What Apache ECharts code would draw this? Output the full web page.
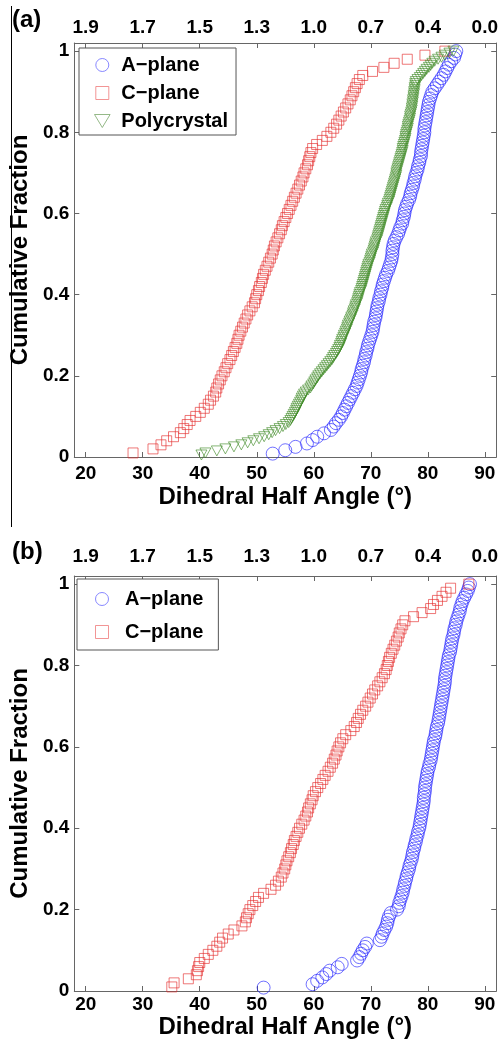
<!DOCTYPE html>
<html><head><meta charset="utf-8">
<script src="https://cdn.jsdelivr.net/npm/echarts@6/dist/echarts.min.js"></script>
<style>html,body{margin:0;padding:0;background:#fff}#c{width:501px;height:1042px}</style>
</head><body><div id="c"></div>
<script>
// ---- data ----
const xTicks = [20, 30, 40, 50, 60, 70, 80, 90];
const topLabels = ['1.9', '1.7', '1.5', '1.3', '1.0', '0.7', '0.4', '0.0'];
const yTicks = [0, 0.2, 0.4, 0.6, 0.8, 1];

// panel (a): sorted dihedral half angles (degrees)
const aPlaneA = [52.8,55.0,56.8,58.8,59.8,60.6,61.8,63.0,63.5,63.9,
64.4,64.8,65.1,65.4,65.7,66.0,66.3,66.6,66.9,67.2,
67.5,67.7,67.9,68.1,68.3,68.4,68.6,68.8,68.9,69.1,
69.2,69.4,69.5,69.7,69.9,70.1,70.3,70.4,70.5,70.6,
70.8,70.9,71.0,71.1,71.2,71.4,71.5,71.7,71.8,72.0,
72.1,72.3,72.5,72.7,73.0,73.2,73.4,73.6,73.7,73.8,
73.8,73.9,74.0,74.2,74.5,74.8,75.0,75.2,75.5,75.6,
75.8,75.9,76.0,76.2,76.4,76.7,76.9,77.0,77.2,77.4,
77.5,77.7,77.8,78.0,78.2,78.3,78.5,78.6,78.8,78.8,
78.9,79.0,79.1,79.2,79.3,79.4,79.4,79.5,79.6,79.7,
79.8,79.9,80.0,80.1,80.2,80.4,80.6,80.8,81.2,81.6,
82.0,82.4,82.8,83.1,83.4,83.7,84.1,84.6,84.8,85.0];

const cPlaneA = [28.3,31.8,33.2,34.2,35.4,36.6,37.2,37.8,38.3,39.3,
40.1,40.8,41.5,41.9,42.4,42.8,43.0,43.3,43.6,43.9,
44.3,44.6,44.9,45.3,45.6,45.9,46.2,46.5,46.7,46.9,
47.2,47.5,47.8,48.1,48.4,48.8,49.2,49.6,49.8,50.0,
50.3,50.5,50.8,51.0,51.2,51.5,51.8,52.1,52.4,52.7,
52.9,53.1,53.4,53.7,54.0,54.3,54.5,54.8,55.1,55.4,
55.7,56.0,56.3,56.6,56.9,57.2,57.5,57.8,58.1,58.3,
58.6,58.9,59.1,59.3,59.5,59.8,60.5,61.5,62.3,63.0,
63.5,64.0,64.4,64.8,65.2,65.6,66.0,66.4,66.7,67.0,
67.3,67.6,68.0,68.6,70.3,72.3,74.1,76.4,79.5,83.0];

const polyA = [40.3,41.0,43.0,44.5,46.0,47.3,48.4,49.4,50.4,51.3,
52.1,52.7,53.3,54.0,54.6,55.1,55.6,55.9,56.1,56.3,
56.5,56.7,56.9,57.0,57.2,57.4,57.6,57.8,57.9,58.1,
58.3,58.6,59.0,59.4,59.6,59.9,60.1,60.3,60.6,60.8,
61.1,61.4,61.7,62.0,62.3,62.6,62.9,63.2,63.4,63.6,
63.9,64.1,64.3,64.5,64.6,64.8,64.9,65.0,65.2,65.3,
65.5,65.6,65.8,65.9,66.0,66.2,66.3,66.5,66.6,66.8,
66.9,67.0,67.2,67.3,67.4,67.6,67.7,67.8,67.9,68.0,
68.1,68.3,68.4,68.5,68.6,68.7,68.8,68.9,69.0,69.1,
69.2,69.3,69.4,69.5,69.6,69.8,69.9,70.0,70.1,70.2,
70.4,70.5,70.6,70.7,70.8,70.9,71.1,71.2,71.3,71.4,
71.5,71.6,71.7,71.8,71.9,72.0,72.1,72.2,72.3,72.4,
72.5,72.6,72.8,72.9,73.0,73.2,73.3,73.4,73.5,73.6,
73.7,73.8,73.9,74.0,74.1,74.2,74.3,74.4,74.5,74.5,
74.6,74.7,74.8,74.9,75.0,75.1,75.2,75.3,75.4,75.5,
75.6,75.6,75.7,75.8,75.9,76.0,76.1,76.1,76.2,76.3,
76.4,76.5,76.5,76.6,76.7,76.8,76.9,76.9,77.0,77.1,
77.2,77.2,77.3,77.3,77.4,77.4,77.5,77.5,77.6,77.6,
77.7,77.7,77.8,77.8,77.9,78.2,78.6,78.9,79.2,79.5,
79.8,80.2,80.5,80.8,81.2,81.8,82.4,83.0,83.8,84.5];

// panel (b)
const aPlaneB = [51.2,59.8,60.6,61.5,62.2,62.8,64.2,64.9,67.6,68.0,
68.3,68.6,69.0,69.3,71.6,71.9,72.1,72.4,72.7,72.9,
73.0,73.2,73.5,74.6,74.9,75.0,75.2,75.4,75.6,75.7,
75.9,76.0,76.2,76.3,76.5,76.7,76.8,77.0,77.2,77.3,
77.4,77.6,77.7,77.9,78.0,78.2,78.3,78.5,78.6,78.7,
78.8,78.9,79.0,79.1,79.2,79.3,79.3,79.4,79.5,79.5,
79.6,79.7,79.8,79.9,80.0,80.2,80.3,80.5,80.6,80.7,
80.8,80.9,81.0,81.1,81.3,81.4,81.5,81.6,81.8,81.9,
82.0,82.1,82.2,82.3,82.4,82.5,82.6,82.7,82.8,82.9,
83.0,83.0,83.1,83.2,83.3,83.4,83.5,83.6,83.7,83.9,
84.0,84.1,84.2,84.3,84.5,84.6,84.7,84.9,85.0,85.2,
85.4,85.6,85.7,85.9,86.1,86.4,86.7,87.0,87.2,87.4];

const cPlaneB = [35.1,35.5,38.0,39.4,39.6,39.8,40.0,40.8,41.5,42.3,
43.0,43.5,44.0,45.0,46.0,47.4,48.0,48.2,48.5,48.8,
49.3,49.8,50.3,51.2,52.5,53.3,53.8,54.3,54.6,54.9,
55.1,55.3,55.6,55.9,56.1,56.4,56.6,56.9,57.2,57.5,
57.9,58.3,58.6,58.9,59.1,59.4,59.7,59.9,60.3,60.7,
61.2,61.6,62.0,62.5,62.9,63.3,63.6,63.9,64.1,64.4,
64.7,65.1,65.6,66.5,67.1,67.5,67.8,68.2,68.6,69.1,
69.5,69.9,70.3,70.7,71.2,71.6,72.0,72.4,72.7,72.9,
73.1,73.3,73.6,73.9,74.2,74.5,74.8,75.0,75.3,75.6,
76.0,77.5,79.0,80.5,81.0,81.7,82.5,83.2,84.0,87.2];

// ---- helpers ----
const FONT = '"Liberation Sans", Arial, Helvetica, sans-serif';
const AX = '#666';
function ecdf(angles) { const n = angles.length; return angles.map((a, i) => [a, (i + 1) / n]); }

function xAxisDef(grid, pos, labelMargin, withName, nameGap) {
  const ax = {
    type: 'value', gridIndex: grid, position: pos, min: 18, max: 92,
    axisLine: { show: true, onZero: false, lineStyle: { color: AX, width: 1 } },
    axisTick: { show: true, inside: true, length: 5, customValues: xTicks, lineStyle: { color: AX } },
    axisLabel: { show: true, customValues: xTicks, margin: labelMargin, color: '#000', fontWeight: 'bold', fontSize: 19, fontFamily: FONT },
    splitLine: { show: false }
  };
  if (pos === 'top') ax.axisLabel.formatter = v => topLabels[xTicks.indexOf(v)];
  if (withName) {
    ax.name = 'Dihedral Half Angle (°)';
    ax.nameLocation = 'middle';
    ax.nameGap = nameGap;
    ax.nameTextStyle = { color: '#000', fontWeight: 'bold', fontSize: 24, fontFamily: FONT };
  }
  return ax;
}
function yAxisDef(grid, pos) {
  const ax = {
    type: 'value', gridIndex: grid, position: pos, min: 0, max: 1.02,
    axisLine: { show: true, onZero: false, lineStyle: { color: AX, width: 1 } },
    axisTick: { show: true, inside: true, length: 5, customValues: yTicks, lineStyle: { color: AX } },
    axisLabel: { show: pos === 'left', customValues: yTicks, margin: 5, color: '#000', fontWeight: 'bold', fontSize: 19, fontFamily: FONT },
    splitLine: { show: false }
  };
  if (pos === 'left') {
    ax.name = 'Cumulative Fraction';
    ax.nameLocation = 'middle';
    ax.nameGap = 41;
    ax.nameTextStyle = { color: '#000', fontWeight: 'bold', fontSize: 24, fontFamily: FONT };
  }
  return ax;
}
const BLUE = '#1f1fff', RED = '#e52b2b', GREEN = '#3f8a25';
function sc(name, data, xi, yi, symbol, size, color, rot) {
  return {
    name, type: 'scatter', xAxisIndex: xi, yAxisIndex: yi, data: ecdf(data),
    symbol, symbolSize: size, symbolRotate: rot || 0, silent: true,
    itemStyle: { color: 'rgba(0,0,0,0)', borderColor: color, borderWidth: 0.8 },
    emphasis: { disabled: true }
  };
}
const legendText = { fontSize: 20, fontWeight: 'bold', color: '#000', fontFamily: FONT, lineHeight: 20 };
const TRI_DOWN = 'path://M0,0L12,0L6,10Z';
const SQUARE = 'path://M0,0L10,0L10,10L0,10Z';
const legendItems = [
  { name: 'A−plane', icon: 'circle', itemStyle: { color: 'rgba(0,0,0,0)', borderColor: '#6b6bff', borderWidth: 1 } },
  { name: 'C−plane', icon: SQUARE, itemStyle: { color: 'rgba(0,0,0,0)', borderColor: '#ef7a7a', borderWidth: 1 } },
  { name: 'Polycrystal', icon: TRI_DOWN, itemStyle: { color: 'rgba(0,0,0,0)', borderColor: '#7aa86a', borderWidth: 1 } }
];

const chart = echarts.init(document.getElementById('c'), null, { renderer: 'canvas' });
chart.setOption({
  animation: false,
  backgroundColor: '#fff',
  grid: [
    { left: 74, top: 43, width: 423, height: 414, containLabel: false },
    { left: 74, top: 576, width: 423, height: 415, containLabel: false }
  ],
  xAxis: [
    xAxisDef(0, 'bottom', 7, true, 28),
    xAxisDef(0, 'top', 6, false),
    xAxisDef(1, 'bottom', 4, true, 22),
    xAxisDef(1, 'top', 10, false)
  ],
  yAxis: [yAxisDef(0, 'left'), yAxisDef(0, 'right'), yAxisDef(1, 'left'), yAxisDef(1, 'right')],
  legend: [
    {
      data: legendItems, orient: 'vertical', left: 79, top: 48, symbolKeepAspect: true,
      itemWidth: 28, itemHeight: 13, itemGap: 8, padding: [7, 8, 4, 15],
      backgroundColor: '#fff', borderColor: '#555', borderWidth: 1, borderRadius: 0,
      selectedMode: false, textStyle: legendText
    },
    {
      data: legendItems.slice(0, 2), orient: 'vertical', left: 77, top: 579, symbolKeepAspect: true,
      itemWidth: 36, itemHeight: 13, itemGap: 13, padding: [10, 15, 8, 18],
      backgroundColor: '#fff', borderColor: '#555', borderWidth: 1, borderRadius: 0,
      selectedMode: false, textStyle: legendText
    }
  ],
  series: [
    sc('A−plane', aPlaneA, 0, 0, 'circle', 13, BLUE),
    sc('C−plane', cPlaneA, 0, 0, 'rect', 10, RED),
    sc('Polycrystal', polyA, 0, 0, 'triangle', [11, 10], GREEN, 180),
    sc('A−plane', aPlaneB, 2, 2, 'circle', 13, BLUE),
    sc('C−plane', cPlaneB, 2, 2, 'rect', 10, RED)
  ],
  graphic: [
    { type: 'line', shape: { x1: 11.5, y1: 6, x2: 11.5, y2: 527 }, style: { stroke: '#000', lineWidth: 1 } },
    { type: 'text', left: 12, top: 8, style: { text: '(a)', fill: '#000', font: 'bold 24px ' + FONT } },
    { type: 'text', left: 12, top: 540, style: { text: '(b)', fill: '#000', font: 'bold 24px ' + FONT } }
  ]
});
</script></body></html>
